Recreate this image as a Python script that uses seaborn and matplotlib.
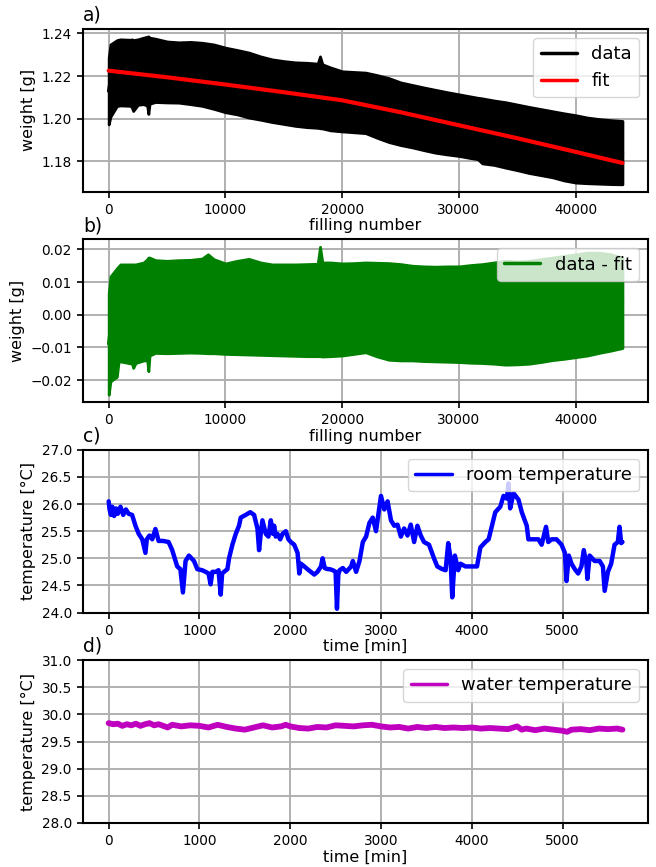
import numpy as np
import pandas as pd
import matplotlib
matplotlib.use("Agg")
import matplotlib.pyplot as plt
import seaborn as sns

# ---- weight per filling: upper / lower envelope of the raw readings ----
fill_a = [0, 150, 700, 1000, 1900, 2000, 2100, 2500, 3000, 3300, 3400, 3500,
          4000, 5000, 6000, 7000, 8000, 9000, 10000, 11000, 12000, 13000,
          14000, 15000, 16000, 17000, 17900, 18100, 18300, 19000, 20000,
          21000, 22000, 23000, 24000, 25000, 26000, 27000, 28000, 29000,
          30000, 31000, 31600, 32000, 33000, 34000, 35000, 36000, 37000,
          38000, 39000, 40000, 41000, 42000, 43000, 44000]
weight_hi = [1.2286, 1.2348, 1.2368, 1.2372, 1.2370, 1.2372, 1.2368, 1.2372,
             1.2380, 1.2384, 1.2386, 1.2380, 1.2375, 1.2362, 1.2358, 1.2360,
             1.2356, 1.2348, 1.2333, 1.2322, 1.2310, 1.2292, 1.2278, 1.2270,
             1.2264, 1.2262, 1.2258, 1.2292, 1.2255, 1.2240, 1.2222, 1.2219,
             1.2216, 1.2204, 1.2190, 1.2170, 1.2158, 1.2146, 1.2135, 1.2124,
             1.2114, 1.2104, 1.2098, 1.2095, 1.2085, 1.2077, 1.2066, 1.2055,
             1.2045, 1.2035, 1.2025, 1.2016, 1.2005, 1.1998, 1.1993, 1.1989]
weight_lo = [1.1973, 1.2009, 1.2059, 1.2062, 1.2060, 1.2050, 1.2036, 1.2065,
             1.2068, 1.2060, 1.2022, 1.2070, 1.2078, 1.2076, 1.2075, 1.2068,
             1.2060, 1.2046, 1.2030, 1.2020, 1.2005, 1.1995, 1.1984, 1.1975,
             1.1966, 1.1960, 1.1957, 1.1955, 1.1954, 1.1945, 1.1940, 1.1936,
             1.1932, 1.1910, 1.1890, 1.1876, 1.1865, 1.1852, 1.1840, 1.1832,
             1.1825, 1.1815, 1.1810, 1.1790, 1.1783, 1.1770, 1.1758, 1.1745,
             1.1735, 1.1725, 1.1710, 1.1700, 1.1697, 1.1695, 1.1693, 1.1692]

# ---- fitted drift of the weight ----
fit_x = [0, 5000, 10000, 15000, 20000, 25000, 30000, 35000, 40000, 44000]
fit_y = [1.2225, 1.2194, 1.2160, 1.2124, 1.2086, 1.2030, 1.1969, 1.1908,
         1.1844, 1.1792]

# ---- residual (data - fit): upper / lower envelope ----
fill_b = [0, 150, 700, 850, 1000, 2000, 2100, 2300, 3000, 3300, 3400, 3500,
          4000, 5000, 6000, 7000, 8000, 8500, 9000, 10000, 11000, 12000,
          13000, 14000, 15000, 16000, 17000, 17900, 18100, 18300, 19000,
          20000, 21000, 22000, 23000, 24000, 25000, 26000, 27000, 28000,
          29000, 30000, 31000, 32000, 33000, 34000, 35000, 36000, 37000,
          38000, 39000, 40000, 41000, 42000, 43000, 44000]
resid_hi = [0.0066, 0.0117, 0.0142, 0.0148, 0.0154, 0.0154, 0.0154, 0.0154,
            0.0160, 0.0170, 0.0175, 0.0175, 0.0167, 0.0165, 0.0167, 0.0168,
            0.0172, 0.0185, 0.0170, 0.0157, 0.0165, 0.0171, 0.0160, 0.0154,
            0.0154, 0.0154, 0.0155, 0.0156, 0.0208, 0.0160, 0.0160, 0.0157,
            0.0158, 0.0160, 0.0159, 0.0158, 0.0155, 0.0150, 0.0148, 0.0147,
            0.0148, 0.0148, 0.0152, 0.0155, 0.0160, 0.0165, 0.0163, 0.0165,
            0.0170, 0.0175, 0.0180, 0.0185, 0.0190, 0.0190, 0.0185, 0.0175]
resid_lo = [-0.0245, -0.0204, -0.0190, -0.0143, -0.0143, -0.0150, -0.0163,
            -0.0148, -0.0140, -0.0140, -0.0173, -0.0125, -0.0117, -0.0118,
            -0.0117, -0.0116, -0.0117, -0.0118, -0.0118, -0.0120, -0.0121,
            -0.0122, -0.0123, -0.0124, -0.0125, -0.0126, -0.0127, -0.0127,
            -0.0127, -0.0128, -0.0127, -0.0125, -0.0120, -0.0115, -0.0128,
            -0.0138, -0.0140, -0.0140, -0.0142, -0.0143, -0.0144, -0.0145,
            -0.0147, -0.0148, -0.0150, -0.0153, -0.0152, -0.0150, -0.0145,
            -0.0139, -0.0135, -0.0130, -0.0125, -0.0117, -0.0110, -0.0102]

# ---- room temperature ----
room_t = [0, 10, 25, 40, 60, 80, 100, 130, 160, 190, 220, 258, 295, 331, 370,
          405, 420, 450, 480, 515, 550, 600, 660, 700, 755, 790, 818, 847,
          884, 940, 976, 1030, 1068, 1100, 1123, 1142, 1179, 1210, 1234, 1250,
          1271, 1308, 1326, 1363, 1400, 1436, 1455, 1510, 1560, 1602, 1639,
          1657, 1675, 1694, 1731, 1760, 1786, 1810, 1823, 1840, 1860, 1890,
          1915, 1952, 1980, 2007, 2044, 2081, 2100, 2118, 2155, 2190, 2228,
          2265, 2300, 2339, 2357, 2380, 2412, 2434, 2470, 2500, 2515, 2530,
          2544, 2580, 2617, 2672, 2690, 2726, 2763, 2800, 2836, 2872, 2909,
          2945, 2974, 3000, 3036, 3073, 3110, 3146, 3182, 3219, 3255, 3292,
          3328, 3365, 3401, 3438, 3474, 3529, 3584, 3620, 3675, 3712, 3741,
          3766, 3785, 3814, 3850, 3876, 3930, 4003, 4058, 4095, 4150, 4186,
          4223, 4259, 4314, 4350, 4387, 4405, 4423, 4460, 4515, 4551, 4606,
          4624, 4679, 4734, 4770, 4818, 4843, 4880, 4934, 4989, 5026, 5044,
          5069, 5099, 5135, 5172, 5208, 5234, 5263, 5274, 5299, 5354, 5409,
          5445, 5464, 5500, 5536, 5573, 5609, 5628, 5646, 5660]
room_temp = [26.05, 25.90, 25.80, 25.95, 25.78, 25.92, 25.82, 25.95, 25.80,
             25.90, 25.82, 25.80, 25.60, 25.45, 25.35, 25.10, 25.35, 25.42,
             25.35, 25.54, 25.32, 25.32, 25.30, 25.15, 24.85, 24.80, 24.37,
             24.95, 25.05, 24.95, 24.80, 24.78, 24.75, 24.72, 24.52, 24.75,
             24.75, 24.78, 24.33, 24.72, 24.75, 24.80, 25.00, 25.25, 25.45,
             25.60, 25.75, 25.80, 25.85, 25.80, 25.55, 25.15, 25.45, 25.70,
             25.45, 25.40, 25.70, 25.45, 25.60, 25.40, 25.45, 25.35, 25.45,
             25.50, 25.35, 25.30, 25.25, 25.10, 24.72, 24.90, 24.85, 24.80,
             24.75, 24.70, 24.75, 24.85, 25.00, 24.82, 24.80, 24.80, 24.78,
             24.75, 24.07, 24.70, 24.78, 24.82, 24.75, 24.85, 24.95, 24.75,
             24.95, 25.30, 25.40, 25.65, 25.75, 25.50, 25.85, 26.15, 25.90,
             26.05, 25.70, 25.60, 25.62, 25.40, 25.55, 25.42, 25.62, 25.30,
             25.60, 25.42, 25.30, 25.25, 25.00, 24.85, 24.80, 24.78, 25.28,
             25.00, 24.28, 25.05, 24.78, 24.90, 24.85, 24.85, 24.85, 25.20,
             25.30, 25.35, 25.60, 25.85, 25.95, 26.15, 26.10, 26.38, 25.92,
             26.20, 26.08, 25.85, 25.60, 25.35, 25.35, 25.35, 25.25, 25.58,
             25.30, 25.35, 25.35, 25.25, 25.10, 24.58, 25.05, 24.90, 24.80,
             24.72, 24.85, 25.15, 24.90, 24.62, 25.05, 24.95, 24.95, 24.85,
             24.40, 24.75, 24.90, 25.25, 25.30, 25.58, 25.28, 25.30]

# ---- water temperature ----
water_t = [0, 50, 100, 150, 200, 250, 300, 350, 400, 450, 500, 550, 600, 650,
           700, 800, 900, 1000, 1100, 1200, 1300, 1400, 1500, 1600, 1700,
           1800, 1900, 1950, 2000, 2100, 2200, 2300, 2400, 2500, 2600, 2700,
           2800, 2900, 3000, 3100, 3200, 3300, 3400, 3500, 3600, 3700, 3800,
           3900, 4000, 4100, 4200, 4300, 4400, 4500, 4550, 4600, 4700, 4800,
           4900, 5000, 5050, 5100, 5200, 5300, 5400, 5500, 5600, 5660]
water_temp = [29.84, 29.82, 29.83, 29.79, 29.82, 29.80, 29.83, 29.79, 29.82,
              29.84, 29.80, 29.82, 29.79, 29.76, 29.81, 29.78, 29.80, 29.79,
              29.76, 29.81, 29.77, 29.74, 29.72, 29.76, 29.80, 29.76, 29.78,
              29.81, 29.78, 29.75, 29.74, 29.77, 29.76, 29.80, 29.79, 29.78,
              29.80, 29.81, 29.78, 29.76, 29.77, 29.74, 29.77, 29.75, 29.77,
              29.75, 29.76, 29.75, 29.76, 29.74, 29.75, 29.74, 29.73, 29.78,
              29.72, 29.74, 29.71, 29.74, 29.72, 29.70, 29.68, 29.72, 29.73,
              29.71, 29.74, 29.73, 29.74, 29.72]

# ---- tick positions ----
fill_ticks = [0, 10000, 20000, 30000, 40000]
time_ticks = [0, 1000, 2000, 3000, 4000, 5000]
weight_ticks = [1.18, 1.20, 1.22, 1.24]
resid_ticks = [-0.02, -0.01, 0.00, 0.01, 0.02]
room_ticks = [24.0, 24.5, 25.0, 25.5, 26.0, 26.5, 27.0]
water_ticks = [28.0, 28.5, 29.0, 29.5, 30.0, 30.5, 31.0]

sns.set_style("ticks", {
    "axes.grid": True,
    "grid.color": "#b0b0b0",
    "axes.edgecolor": "black",
    "xtick.color": "black",
    "ytick.color": "black",
    "axes.labelcolor": "black",
    "text.color": "black",
})
plt.rcParams.update({
    "font.family": ["DejaVu Sans"],
    "grid.linewidth": 1.4,
    "axes.linewidth": 1.5,
    "xtick.major.width": 1.2,
    "ytick.major.width": 1.2,
    "xtick.major.size": 4.5,
    "ytick.major.size": 4.5,
    "xtick.labelsize": 9.8,
    "ytick.labelsize": 9.8,
    "axes.labelsize": 11.5,
    "legend.fontsize": 13,
    "legend.framealpha": 0.8,
    "legend.edgecolor": "0.8",
})


def band_frame(x, lo, hi):
    return pd.DataFrame({"x": np.concatenate([x, x]),
                         "y": np.concatenate([lo, hi])})


fig, axes = plt.subplots(4, 1, figsize=(6.56, 8.67), dpi=100)
fig.subplots_adjust(left=0.1265, right=0.988, top=0.9666, bottom=0.0508,
                    hspace=0.293)
ax_a, ax_b, ax_c, ax_d = axes

# a) raw weight with fitted drift
sns.lineplot(data=band_frame(fill_a, weight_lo, weight_hi), x="x", y="y",
             errorbar=("pi", 100), color="black", linewidth=2.5,
             label="data", ax=ax_a,
             err_kws={"alpha": 1, "linewidth": 2.0, "edgecolor": "black",
                      "zorder": 2})
sns.lineplot(x=fit_x, y=fit_y, color="red", linewidth=3, label="fit",
             ax=ax_a, zorder=3)
ax_a.set_yticks(weight_ticks)
ax_a.set_yticklabels([f"{v:.2f}" for v in weight_ticks])
ax_a.set_xticks(fill_ticks)
ax_a.set_xlabel("filling number")
ax_a.set_ylabel("weight [g]")
ax_a.set_title("a)", loc="left", fontsize=13.5)

# b) residual
sns.lineplot(data=band_frame(fill_b, resid_lo, resid_hi), x="x", y="y",
             errorbar=("pi", 100), color="green", linewidth=2.5,
             label="data - fit", ax=ax_b,
             err_kws={"alpha": 1, "linewidth": 2.0, "edgecolor": "green",
                      "zorder": 2})
ax_b.set_yticks(resid_ticks)
ax_b.set_yticklabels([f"{v:.2f}".replace("-", "\u2212") for v in resid_ticks])
ax_b.set_xticks(fill_ticks)
ax_b.set_xlabel("filling number")
ax_b.set_ylabel("weight [g]")
ax_b.set_title("b)", loc="left", fontsize=13.5)

# c) room temperature
sns.lineplot(x=room_t, y=room_temp, color="blue", linewidth=3.2,
             label="room temperature", ax=ax_c)
ax_c.set_ylim(24, 27)
ax_c.set_yticks(room_ticks)
ax_c.set_yticklabels([f"{v:.1f}" for v in room_ticks])
ax_c.set_xticks(time_ticks)
ax_c.set_xlabel("time [min]")
ax_c.set_ylabel("temperature [°C]")
ax_c.set_title("c)", loc="left", fontsize=13.5)

# d) water temperature
sns.lineplot(x=water_t, y=water_temp, color="m", linewidth=4.2,
             label="water temperature", ax=ax_d)
ax_d.set_ylim(28, 31)
ax_d.set_yticks(water_ticks)
ax_d.set_yticklabels([f"{v:.1f}" for v in water_ticks])
ax_d.set_xticks(time_ticks)
ax_d.set_xlabel("time [min]")
ax_d.set_ylabel("temperature [°C]")
ax_d.set_title("d)", loc="left", fontsize=13.5)

for ax in axes:
    leg = ax.legend(loc="upper right")
    for h in leg.get_lines():
        h.set_linewidth(2.5)
    ax.xaxis.labelpad = 1
    for s in ax.spines.values():
        s.set_visible(True)

fig.savefig("out.png", dpi=100)
